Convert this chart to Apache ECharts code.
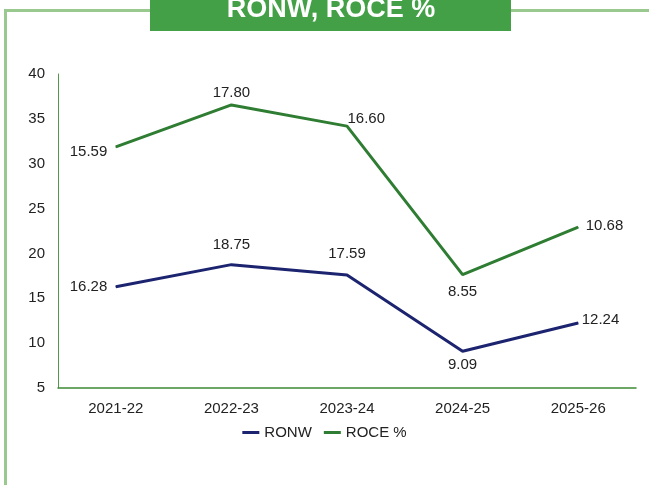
<!DOCTYPE html>
<html>
<head>
<meta charset="utf-8">
<script src="https://cdn.jsdelivr.net/npm/echarts@6/dist/echarts.min.js"></script>
<style>
  html, body { margin: 0; padding: 0; background: #fff; }
  #chart { width: 649px; height: 485px; }
</style>
</head>
<body>
<div id="chart"></div>
<script>
// values
const years = ['2021-22', '2022-23', '2023-24', '2024-25', '2025-26']
const ronw = [16.28, 18.75, 17.59, 9.09, 12.24]
const roce = [15.59, 17.80, 16.60, 8.55, 10.68]

// label placement per point (the source chart stacks ROCE on top of RONW)
const ronwLabels = [
  {position: 'left', distance: 8},
  {position: 'top', distance: 12},
  {position: 'top', distance: 13},
  {position: 'bottom', distance: 6},
  {position: 'right', distance: 3, offset: [0, -3]},
]
const roceLabels = [
  {position: 'left', distance: 8, offset: [0, 5]},
  {position: 'top', distance: 4},
  {position: 'right', distance: 0, offset: [0, -7]},
  {position: 'bottom', distance: 9},
  {position: 'right', distance: 7, offset: [0, -1]},
]

const labelFont = {fontFamily: 'Liberation Sans', fontSize: 15, color: '#222'}

const chart = echarts.init(document.getElementById('chart'))
chart.setOption({
  animation: false,
  textStyle: {fontFamily: 'Liberation Sans'},
  graphic: [
    // light green frame (top + left edge)
    {type: 'rect', shape: {x: 4, y: 9, width: 660, height: 3}, style: {fill: '#99c98f'}},
    {type: 'rect', shape: {x: 4, y: 9, width: 3, height: 490}, style: {fill: '#99c98f'}},
    // title box
    {type: 'rect', shape: {x: 150, y: 0, width: 361, height: 31}, style: {fill: '#43a047'}},
    {
      type: 'text', x: 331, y: 10,
      style: {
        text: 'RONW, ROCE %', fill: '#fff', align: 'center', verticalAlign: 'middle',
        font: 'bold 27px "Liberation Sans", Arial, sans-serif',
      },
    },
  ],
  legend: {
    left: 'center',
    top: 420,
    itemWidth: 17,
    itemHeight: 3,
    itemGap: 12,
    icon: 'rect',
    textStyle: {fontFamily: 'Liberation Sans', fontSize: 15, color: '#222'},
    data: ['RONW', 'ROCE %'],
  },
  grid: {left: 58, right: 13, top: 74, bottom: 97, containLabel: false},
  xAxis: {
    type: 'category',
    data: years,
    boundaryGap: true,
    axisLine: {lineStyle: {color: '#3d8b35', width: 1.5}},
    axisTick: {show: false},
    axisLabel: {fontSize: 15, color: '#222', margin: 13},
  },
  yAxis: {
    type: 'value',
    min: 5,
    max: 40,
    interval: 5,
    axisLine: {show: true, lineStyle: {color: '#4f9a47', width: 1}},
    axisTick: {show: false},
    splitLine: {show: false},
    axisLabel: {fontSize: 15, color: '#222', margin: 13},
  },
  series: [
    {
      name: 'RONW',
      type: 'line',
      stack: 'total',
      symbol: 'circle',
      symbolSize: 1,
      color: '#1c2470',
      lineStyle: {width: 3, color: '#1c2470'},
      data: ronw.map((v, i) => ({value: v, label: ronwLabels[i]})),
      label: {show: true, ...labelFont, formatter: p => p.value.toFixed(2)},
    },
    {
      name: 'ROCE %',
      type: 'line',
      stack: 'total',
      symbol: 'circle',
      symbolSize: 1,
      color: '#2e7d32',
      lineStyle: {width: 3, color: '#2e7d32'},
      data: roce.map((v, i) => ({value: v, label: roceLabels[i]})),
      label: {show: true, ...labelFont, formatter: p => p.value.toFixed(2)},
    },
  ],
})
</script>
</body>
</html>
